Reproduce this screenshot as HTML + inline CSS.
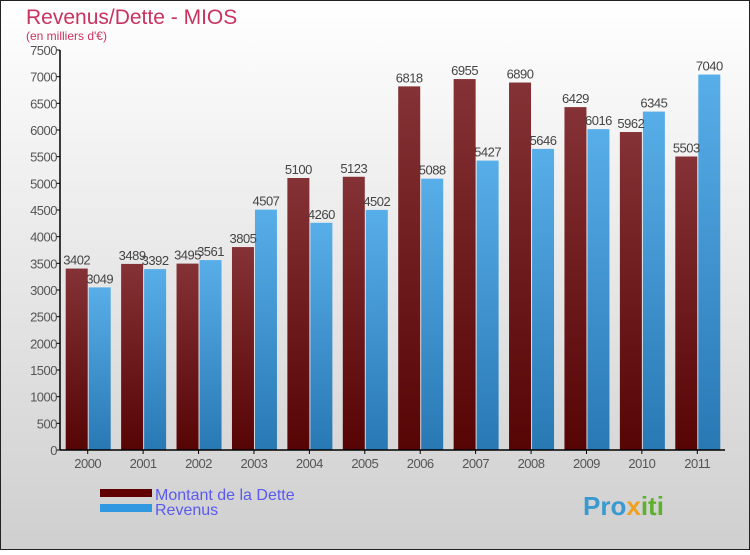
<!DOCTYPE html>
<html><head><meta charset="utf-8">
<style>
html,body{margin:0;padding:0}
body{width:750px;height:550px;overflow:hidden;font-family:"Liberation Sans",sans-serif}
svg text{font-family:"Liberation Sans",sans-serif}
</style></head>
<body>
<svg id="chart" width="750" height="550" xmlns="http://www.w3.org/2000/svg">
<defs>
<linearGradient id="bg" x1="0" y1="0" x2="0" y2="1"><stop offset="0" stop-color="#ffffff"/><stop offset="1" stop-color="#cfcfcf"/></linearGradient>
<linearGradient id="gd" x1="0" y1="0" x2="0" y2="1"><stop offset="0" stop-color="#853236"/><stop offset="1" stop-color="#560404"/></linearGradient>
<linearGradient id="gr" x1="0" y1="0" x2="0" y2="1"><stop offset="0" stop-color="#58aee8"/><stop offset="1" stop-color="#2878b4"/></linearGradient>
</defs>
<rect x="0.5" y="0.5" width="749" height="549" fill="url(#bg)" stroke="#222"/>
<text x="26" y="24" font-size="21" fill="#c8335f">Revenus/Dette - MIOS</text>
<text x="26" y="40" font-size="12" fill="#c8335f">(en milliers d'€)</text>
<g id="plot"></g>
<g>
<rect x="100" y="489" width="52" height="8" fill="#600000"/>
<text x="155" y="500" font-size="16" fill="#5a5af0">Montant de la Dette</text>
<rect x="100" y="504" width="52" height="8" fill="#3098e0"/>
<text x="155" y="515" font-size="16" fill="#5a5af0">Revenus</text>
</g>
<text x="583" y="515" font-size="26" font-weight="bold" fill="#3a9ad0">Pro<tspan fill="#f0a020">x</tspan><tspan fill="#60b030">iti</tspan></text>
</svg>
<script>
const years=["2000","2001","2002","2003","2004","2005","2006","2007","2008","2009","2010","2011"];
const dette=[3402,3489,3495,3805,5100,5123,6818,6955,6890,6429,5962,5503];
const revenus=[3049,3392,3561,4507,4260,4502,5088,5427,5646,6016,6345,7040];
const yTicks=[0,500,1000,1500,2000,2500,3000,3500,4000,4500,5000,5500,6000,6500,7000,7500];
const NS="http://www.w3.org/2000/svg";
const g=document.getElementById('plot');
const x0=60,x1=725,yb=450,yt=50,ymax=7500;
const y=v=>yb-(v/ymax)*(yb-yt);
const step=(x1-x0)/years.length;
const cx=i=>x0+step*(i+0.5);
function mk(t,a){const e=document.createElementNS(NS,t);for(const k in a)e.setAttribute(k,a[k]);g.appendChild(e);return e;}
yTicks.forEach(v=>{
 const l=mk('line',{x1:x0-4,x2:x0,y1:y(v),y2:y(v),stroke:'#000'});
 
 
 const t=mk('text',{x:x0-3,y:y(v)+5,'font-size':13,'text-anchor':'end',fill:'#555','letter-spacing':'-0.5'});
 t.textContent=v;
 
 
});
years.forEach((yr,i)=>{
 const c=cx(i);
 const b1=mk('rect',{x:c-22,y:y(dette[i]),width:22,height:yb-y(dette[i]),fill:'url(#gd)'});
 
 
 const b2=mk('rect',{x:c+1,y:y(revenus[i]),width:22,height:yb-y(revenus[i]),fill:'url(#gr)'});
 
 
 const t1=mk('text',{x:c-11,y:y(dette[i])-4,'font-size':13,'text-anchor':'middle',fill:'#444','letter-spacing':'-0.5'});
 t1.textContent=dette[i];
 
 
 const t2=mk('text',{x:c+12,y:y(revenus[i])-4,'font-size':13,'text-anchor':'middle',fill:'#444','letter-spacing':'-0.5'});
 t2.textContent=revenus[i];
 
 
 const tk=mk('line',{x1:c,x2:c,y1:yb,y2:yb+4,stroke:'#000'});
 
 
 const xl=mk('text',{x:c,y:yb+18,'font-size':13,'text-anchor':'middle',fill:'#555','letter-spacing':'-0.5'});
 xl.textContent=yr;
 
 
});
const ya=mk('line',{x1:x0,x2:x0,y1:yt,y2:yb,stroke:'#000','stroke-width':1.5});


const xa=mk('line',{x1:x0,x2:x1,y1:yb,y2:yb,stroke:'#000','stroke-width':1.5});


</script>
</body></html>
